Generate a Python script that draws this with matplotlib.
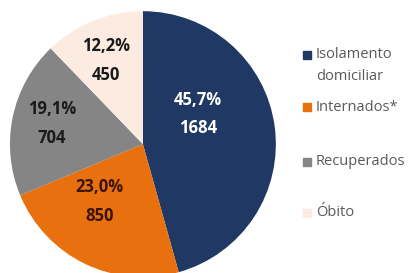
import numpy as np
import matplotlib.pyplot as plt
from matplotlib.patches import Rectangle

categories = ['Isolamento\ndomiciliar', 'Internados*', 'Recuperados', 'Óbito']
counts = [1684, 850, 704, 450]
pct_labels = ['45,7%', '23,0%', '19,1%', '12,2%']
colors = ['#1f3864', '#e8700f', '#858585', '#fcebe0']
text_colors = ['white', '#3a1406', '#1a1a1a', '#1a1a1a']

plt.rcParams['font.family'] = ['Open Sans', 'DejaVu Sans']

fig = plt.figure(figsize=(4.13, 2.73), dpi=100)
ax = fig.add_axes([0.024, -0.015, 0.644, 0.974])

wedges, _ = ax.pie(counts, colors=colors, startangle=90, counterclock=False,
                   wedgeprops=dict(linewidth=0))
ax.set_xlim(-1, 1)
ax.set_ylim(-1, 1)
ax.set_aspect('equal')

# label placement, loosely like Excel's "best fit"
label_r = [0.47, 0.54, 0.70, 0.69]
label_shift = [21, -11, -1, 2]
for w, pl, n, tc, r, s in zip(wedges, pct_labels, counts, text_colors, label_r, label_shift):
    ang = np.deg2rad((w.theta1 + w.theta2) / 2 + s)
    ax.text(r * np.cos(ang), r * np.sin(ang), f'{pl}\n{n}', ha='center', va='center',
            color=tc, fontsize=12, fontweight='bold', linespacing=1.75)

# legend drawn by hand, entries are unevenly spaced in the original
leg_y = [0.80, 0.608, 0.407, 0.22]
for cat, c, y in zip(categories, colors, leg_y):
    fig.patches.append(Rectangle((0.734, y - 0.016), 0.02, 0.031, color=c,
                                 transform=fig.transFigure))
    t = fig.text(0.765, y, cat.split('\n')[0], ha='left', va='center',
                 fontsize=10.5, color='#595959')
    if '\n' in cat:
        fig.text(0.765, y - 0.081, cat.split('\n')[1], ha='left', va='center',
                 fontsize=10.5, color='#595959')

plt.savefig('out.png', dpi=100)
